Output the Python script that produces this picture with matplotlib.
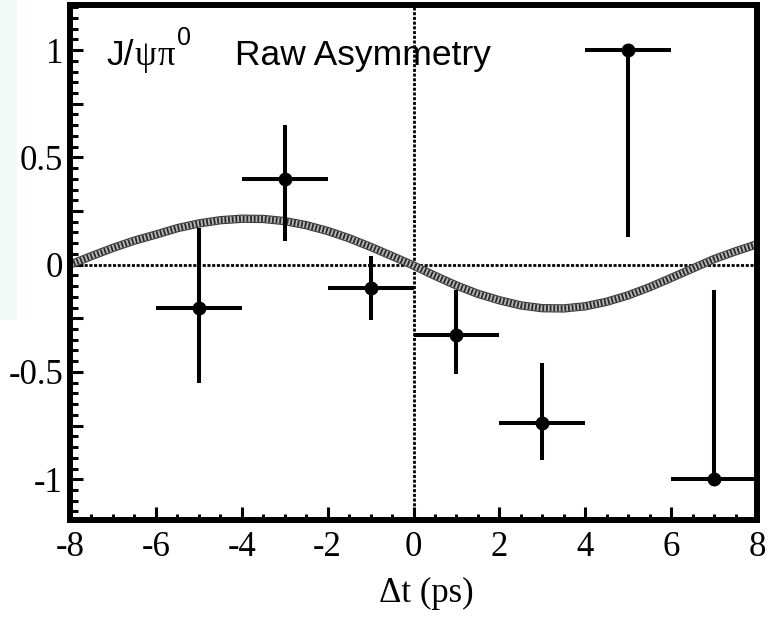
import matplotlib
matplotlib.use('Agg')
import matplotlib.pyplot as plt
import numpy as np
from matplotlib.patches import Rectangle
from matplotlib.ticker import FixedLocator, FixedFormatter, MultipleLocator

# measured points: delta t bins (ps) and raw asymmetry
dt = [-5, -3, -1, 1, 3, 5, 7]
asym = [-0.20, 0.40, -0.11, -0.33, -0.74, 1.00, -1.00]
dt_err = [1, 1, 1, 1, 1, 1, 1]
asym_err_lo = [0.35, 0.29, 0.15, 0.18, 0.17, 0.87, 0.0]
asym_err_hi = [0.37, 0.25, 0.15, 0.21, 0.28, 0.0, 0.88]

# fit curve every 0.5 ps
curve_t = [-8.0, -7.5, -7.0, -6.5, -6.0, -5.5, -5.0, -4.5, -4.0, -3.5, -3.0,
           -2.5, -2.0, -1.5, -1.0, -0.5, 0.0, 0.5, 1.0, 1.5, 2.0, 2.5, 3.0,
           3.5, 4.0, 4.5, 5.0, 5.5, 6.0, 6.5, 7.0, 7.5, 8.0]
curve_a = [0.000, 0.040, 0.078, 0.112, 0.140, 0.170, 0.192, 0.207, 0.214, 0.213, 0.203,
           0.184, 0.157, 0.123, 0.083, 0.040, -0.004, -0.052, -0.097, -0.136, -0.166, -0.190, -0.203,
           -0.204, -0.194, -0.173, -0.143, -0.105, -0.062, -0.018, 0.026, 0.062, 0.095]

yticks = [-1.0, -0.75, -0.5, -0.25, 0.0, 0.25, 0.5, 0.75, 1.0]
ylabels = ['-1', '', '-0.5', '', '0', '', '0.5', '', '1']
xticks = [-8, -6, -4, -2, 0, 2, 4, 6, 8]
xlabels = ['-8', '-6', '-4', '-2', '0', '2', '4', '6', '8']

plt.rcParams['axes.unicode_minus'] = False
sans = 'Liberation Sans'
serif = 'Liberation Serif'

fig = plt.figure(figsize=(7.83, 6.28), dpi=100)
# faint panel bleeding in from a neighbouring figure
fig.patches.append(Rectangle((0, 1 - 320 / 628), 17 / 783, 320 / 628,
	transform=fig.transFigure, facecolor='#f3f9f6', edgecolor='none', zorder=0))
ax = fig.add_axes([70 / 783, 1 - 520 / 628, 687 / 783, 515 / 628])
ax.set_xlim(-8, 8)
ax.set_ylim(-1.19, 1.21)

ax.axhline(0, color='k', lw=2, linestyle=(0, (1.1, 0.6)), zorder=1)
ax.axvline(0, color='k', lw=2, linestyle=(0, (1.1, 0.6)), zorder=1)

# hatched band look: light grey line with dense dark dashes on top
ax.plot(curve_t, curve_a, color='#3a3a3a', lw=6.0, solid_capstyle='butt', zorder=2)
ax.plot(curve_t, curve_a, color='#b8b8b8', lw=4.4, solid_capstyle='butt', zorder=2)
ax.plot(curve_t, curve_a, color='#2a2a2a', lw=4.4, linestyle=(0, (0.3, 0.3)),
	dash_capstyle='butt', zorder=2)

ax.errorbar(dt, asym, xerr=dt_err, yerr=[asym_err_lo, asym_err_hi], fmt='o', color='k',
	ms=9, elinewidth=2.9, capsize=0, zorder=3)

for s in ax.spines.values():
	s.set_linewidth(4.3)

ax.yaxis.set_major_locator(FixedLocator(yticks))
ax.yaxis.set_major_formatter(FixedFormatter(ylabels))
ax.yaxis.set_minor_locator(MultipleLocator(0.05))
ax.xaxis.set_major_locator(FixedLocator(xticks))
ax.xaxis.set_major_formatter(FixedFormatter(xlabels))
ax.xaxis.set_minor_locator(MultipleLocator(0.5))
ax.tick_params(axis='both', which='both', direction='in', top=False, right=False)
ax.tick_params(axis='y', which='major', length=9, width=2.2, pad=5)
ax.tick_params(axis='y', which='minor', length=5.4, width=2.2)
ax.tick_params(axis='x', which='major', length=9.4, width=2.2, pad=8)
ax.tick_params(axis='x', which='minor', length=4.5, width=2.2)
for lab in ax.get_xticklabels() + ax.get_yticklabels():
	lab.set_fontfamily(serif)
	lab.set_fontsize(25)

ax.text(0.519, -0.159, '\u0394t (ps)', transform=ax.transAxes, ha='center', va='baseline',
	fontsize=25, family=serif)

# title label built in pieces: sans text with serif greek letters
ty = 0.93
ax.text(-7.15, ty, 'J/', ha='left', va='baseline', fontsize=25.5, family=sans)
ax.text(-6.49, ty, '\u03c8', ha='left', va='baseline', fontsize=25, family=serif)
ax.text(-5.95, ty, '\u03c0', ha='left', va='baseline', fontsize=25, family=serif)
ax.text(-5.51, 1.023, '0', ha='left', va='baseline', fontsize=18, family=sans)
ax.text(-4.16, ty, 'Raw Asymmetry', ha='left', va='baseline', fontsize=25.5, family=sans)

fig.savefig('out.png', dpi=100)
